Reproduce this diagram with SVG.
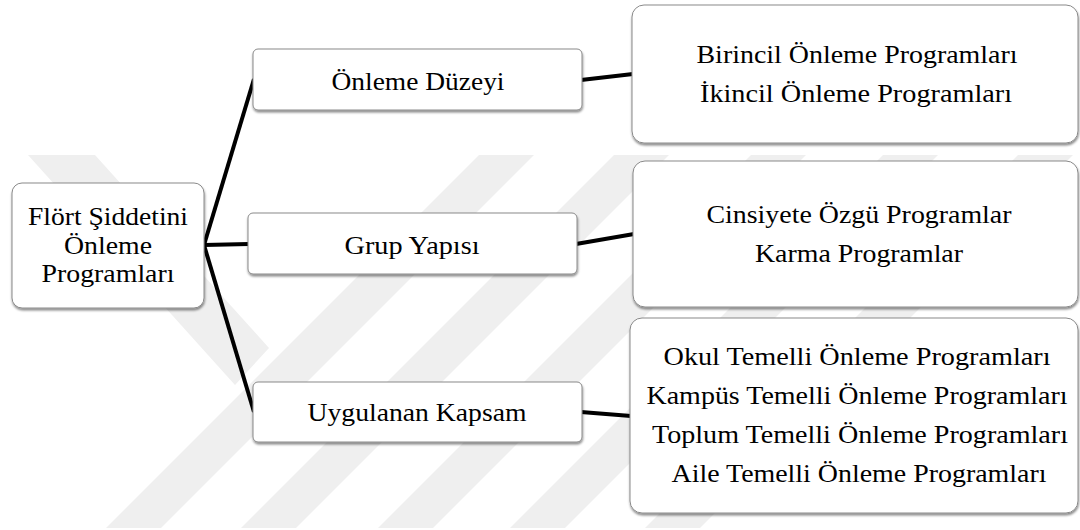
<svg xmlns="http://www.w3.org/2000/svg" width="1080" height="530" viewBox="0 0 1080 530">
  <defs>
    <filter id="sh" x="-5%" y="-10%" width="110%" height="130%">
      <feDropShadow dx="0.5" dy="2" stdDeviation="1.3" flood-color="#000" flood-opacity="0.45"/>
    </filter>
    <clipPath id="wmclip"><rect x="0" y="155" width="1080" height="373"/></clipPath>
  </defs>
  <style>
    .box { fill: #ffffff; stroke: #8a8a8a; stroke-width: 1; filter: url(#sh); }
    .wm { fill: #efefef; }
    .con line { stroke: #000; stroke-width: 4; stroke-linecap: butt; }
  </style>
  <rect width="1080" height="530" fill="#ffffff"/>

  <g id="watermark" clip-path="url(#wmclip)">
    <polygon class="wm" points="28,155 95,155 269,348 235,385"/>
    <polygon class="wm" points="479,155 534,155 161,528 106,528"/>
    <polygon class="wm" points="614,155 669,155 296,528 241,528"/>
    <polygon class="wm" points="751,155 806,155 433,528 378,528"/>
    <polygon class="wm" points="883,155 938,155 565,528 510,528"/>
    <polygon class="wm" points="1018,155 1073,155 700,528 645,528"/>
  </g>

  <g id="connectors" class="con">
    <line x1="204" y1="245" x2="254" y2="79"/>
    <line x1="204" y1="245" x2="249" y2="244"/>
    <line x1="204" y1="245" x2="254" y2="412"/>
    <line x1="581" y1="80" x2="633" y2="74"/>
    <line x1="576" y1="244" x2="634" y2="234"/>
    <line x1="581" y1="412" x2="631" y2="416"/>
  </g>

  <g font-family="Liberation Serif" font-size="25" fill="#000" text-anchor="middle">
  <g id="root">
    <rect class="box" x="12" y="183" width="192" height="125" rx="10"/>
    <text x="108" y="225" textLength="160" lengthAdjust="spacingAndGlyphs">Flört Şiddetini</text>
    <text x="108" y="254" textLength="88" lengthAdjust="spacingAndGlyphs">Önleme</text>
    <text x="108" y="282" textLength="133" lengthAdjust="spacingAndGlyphs">Programları</text>
  </g>

  <g id="onleme-duzeyi">
    <rect class="box" x="253" y="49" width="329" height="61" rx="5"/>
    <text x="418" y="90" textLength="173" lengthAdjust="spacingAndGlyphs">Önleme Düzeyi</text>
  </g>

  <g id="grup-yapisi">
    <rect class="box" x="248" y="213" width="329" height="61" rx="5"/>
    <text x="412" y="254" textLength="135" lengthAdjust="spacingAndGlyphs">Grup Yapısı</text>
  </g>

  <g id="uygulanan-kapsam">
    <rect class="box" x="253" y="382" width="329" height="60" rx="5"/>
    <text x="417" y="421" textLength="219" lengthAdjust="spacingAndGlyphs">Uygulanan Kapsam</text>
  </g>

  <g id="onleme-duzeyi-items">
    <rect class="box" x="632" y="5" width="446" height="138" rx="12"/>
    <text x="857" y="63" textLength="321" lengthAdjust="spacingAndGlyphs">Birincil Önleme Programları</text>
    <text x="856" y="102" textLength="312" lengthAdjust="spacingAndGlyphs">İkincil Önleme Programları</text>
  </g>

  <g id="grup-yapisi-items">
    <rect class="box" x="633" y="161" width="445" height="146" rx="12"/>
    <text x="859" y="223" textLength="305" lengthAdjust="spacingAndGlyphs">Cinsiyete Özgü Programlar</text>
    <text x="859" y="262" textLength="208" lengthAdjust="spacingAndGlyphs">Karma Programlar</text>
  </g>

  <g id="uygulanan-kapsam-items">
    <rect class="box" x="630" y="318" width="448" height="195" rx="12"/>
    <text x="857" y="365" textLength="387" lengthAdjust="spacingAndGlyphs">Okul Temelli Önleme Programları</text>
    <text x="857" y="404" textLength="421" lengthAdjust="spacingAndGlyphs">Kampüs Temelli Önleme Programları</text>
    <text x="860" y="443" textLength="416" lengthAdjust="spacingAndGlyphs">Toplum Temelli Önleme Programları</text>
    <text x="859" y="482" textLength="375" lengthAdjust="spacingAndGlyphs">Aile Temelli Önleme Programları</text>
  </g>
  </g>
</svg>
